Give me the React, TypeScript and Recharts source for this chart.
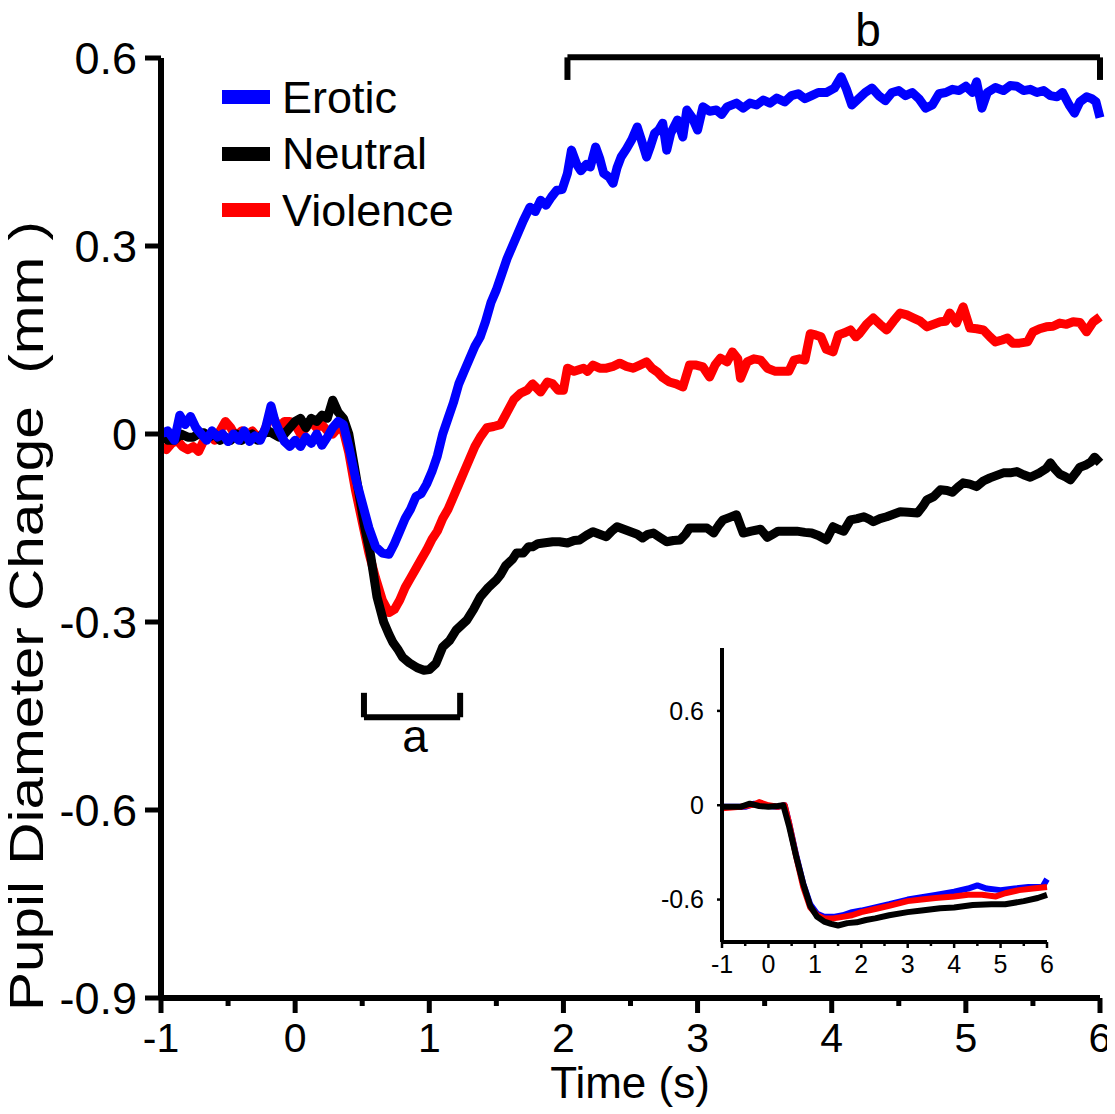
import React from 'react';
import { LineChart, Line, XAxis, YAxis, Legend, ReferenceLine, ReferenceDot } from 'recharts';

const FONT = '"Liberation Sans", Arial, Helvetica, sans-serif';

// ---------- main chart data: [time (s), pupil change (mm)] ----------
const eroticTrace: [number, number][] = [
  [-1.0, 0.0], [-0.95, 0.005], [-0.9, -0.01], [-0.86, 0.03], [-0.82, 0.015], [-0.78, 0.028], [-0.74, 0.01],
  [-0.7, 0.0], [-0.66, -0.01], [-0.62, 0.005], [-0.58, -0.005], [-0.54, 0.0], [-0.5, -0.012], [-0.46, 0.0],
  [-0.42, -0.01], [-0.38, 0.005], [-0.34, -0.012], [-0.3, -0.003], [-0.26, -0.01], [-0.22, 0.01], [-0.18, 0.045],
  [-0.15, 0.02], [-0.12, 0.005], [-0.08, -0.012], [-0.04, -0.02], [0.0, -0.01], [0.04, -0.02], [0.08, -0.005],
  [0.12, -0.015], [0.16, 0.0], [0.2, -0.018], [0.24, -0.005], [0.28, 0.01], [0.32, 0.02], [0.36, 0.015],
  [0.4, -0.02], [0.45, -0.07], [0.5, -0.11], [0.55, -0.15], [0.6, -0.18], [0.65, -0.19], [0.7, -0.192],
  [0.74, -0.175], [0.78, -0.155], [0.82, -0.135], [0.86, -0.12], [0.9, -0.1], [0.94, -0.095], [0.98, -0.08],
  [1.02, -0.06], [1.06, -0.035], [1.1, 0.0], [1.14, 0.025], [1.18, 0.05], [1.22, 0.08], [1.26, 0.1],
  [1.3, 0.12], [1.34, 0.14], [1.38, 0.155], [1.42, 0.18], [1.46, 0.21], [1.5, 0.23], [1.54, 0.255],
  [1.58, 0.28], [1.62, 0.3], [1.66, 0.32], [1.7, 0.34], [1.75, 0.362], [1.79, 0.355], [1.83, 0.373],
  [1.87, 0.365], [1.91, 0.378], [1.95, 0.389], [1.99, 0.39], [2.03, 0.416], [2.06, 0.453], [2.1, 0.43],
  [2.13, 0.42], [2.17, 0.43], [2.2, 0.426], [2.24, 0.458], [2.27, 0.44], [2.3, 0.416], [2.34, 0.41],
  [2.37, 0.4], [2.4, 0.425], [2.43, 0.442], [2.47, 0.455], [2.51, 0.47], [2.55, 0.49], [2.58, 0.47],
  [2.62, 0.442], [2.65, 0.46], [2.68, 0.48], [2.71, 0.485], [2.74, 0.496], [2.77, 0.453], [2.8, 0.48],
  [2.85, 0.501], [2.89, 0.474], [2.92, 0.517], [2.96, 0.505], [3.0, 0.485], [3.04, 0.522], [3.09, 0.515],
  [3.14, 0.517], [3.18, 0.51], [3.22, 0.522], [3.29, 0.528], [3.34, 0.52], [3.39, 0.528], [3.44, 0.525],
  [3.49, 0.533], [3.54, 0.528], [3.59, 0.536], [3.65, 0.53], [3.7, 0.54], [3.75, 0.543], [3.8, 0.535],
  [3.85, 0.54], [3.9, 0.545], [3.96, 0.545], [4.02, 0.552], [4.07, 0.57], [4.11, 0.55], [4.15, 0.525],
  [4.2, 0.535], [4.25, 0.545], [4.3, 0.552], [4.35, 0.54], [4.4, 0.532], [4.45, 0.545], [4.5, 0.548],
  [4.55, 0.54], [4.6, 0.545], [4.65, 0.535], [4.7, 0.52], [4.75, 0.525], [4.8, 0.543], [4.85, 0.545],
  [4.9, 0.55], [4.95, 0.548], [5.0, 0.555], [5.05, 0.545], [5.08, 0.562], [5.12, 0.52], [5.16, 0.545],
  [5.22, 0.553], [5.28, 0.548], [5.33, 0.556], [5.38, 0.555], [5.43, 0.548], [5.48, 0.55], [5.53, 0.545],
  [5.58, 0.548], [5.63, 0.54], [5.68, 0.538], [5.72, 0.545], [5.77, 0.525], [5.81, 0.512], [5.85, 0.53],
  [5.9, 0.538], [5.94, 0.535], [5.97, 0.53], [6.0, 0.505],
];

const neutralTrace: [number, number][] = [
  [-1.0, 0.0], [-0.95, -0.01], [-0.9, -0.01], [-0.85, 0.0], [-0.8, -0.005], [-0.76, -0.005], [-0.72, 0.0],
  [-0.68, 0.002], [-0.64, -0.005], [-0.6, 0.0], [-0.56, -0.01], [-0.52, -0.005], [-0.48, -0.01], [-0.44, 0.0],
  [-0.4, -0.01], [-0.36, -0.005], [-0.32, 0.0], [-0.28, -0.01], [-0.24, 0.0], [-0.2, 0.005], [-0.16, 0.0],
  [-0.12, -0.005], [-0.08, 0.0], [-0.04, 0.01], [0.0, 0.02], [0.04, 0.025], [0.08, 0.01], [0.12, 0.025],
  [0.16, 0.02], [0.2, 0.03], [0.24, 0.025], [0.28, 0.054], [0.32, 0.035], [0.36, 0.025], [0.4, 0.0],
  [0.44, -0.05], [0.48, -0.1], [0.52, -0.15], [0.56, -0.19], [0.61, -0.26], [0.66, -0.3], [0.7, -0.32],
  [0.73, -0.333], [0.77, -0.345], [0.8, -0.356], [0.85, -0.365], [0.91, -0.373], [0.96, -0.377], [1.0, -0.376],
  [1.05, -0.366], [1.1, -0.34], [1.15, -0.33], [1.2, -0.313], [1.24, -0.305], [1.28, -0.297], [1.33, -0.28],
  [1.38, -0.26], [1.44, -0.245], [1.5, -0.233], [1.53, -0.225], [1.57, -0.21], [1.62, -0.2], [1.65, -0.19],
  [1.7, -0.19], [1.74, -0.18], [1.77, -0.18], [1.81, -0.175], [1.85, -0.174], [1.92, -0.172], [1.97, -0.172],
  [2.03, -0.174], [2.08, -0.17], [2.12, -0.169], [2.17, -0.162], [2.22, -0.156], [2.27, -0.16], [2.32, -0.164],
  [2.36, -0.155], [2.4, -0.148], [2.45, -0.152], [2.5, -0.156], [2.55, -0.16], [2.59, -0.166], [2.63, -0.16],
  [2.67, -0.158], [2.72, -0.165], [2.77, -0.172], [2.82, -0.17], [2.87, -0.169], [2.91, -0.16], [2.94, -0.15],
  [3.0, -0.15], [3.07, -0.15], [3.12, -0.158], [3.16, -0.145], [3.19, -0.137], [3.24, -0.133], [3.29, -0.129],
  [3.34, -0.158], [3.4, -0.155], [3.47, -0.152], [3.52, -0.165], [3.56, -0.16], [3.6, -0.155], [3.67, -0.155],
  [3.74, -0.155], [3.8, -0.157], [3.85, -0.158], [3.9, -0.162], [3.96, -0.169], [4.01, -0.148], [4.05, -0.152],
  [4.09, -0.155], [4.14, -0.137], [4.19, -0.135], [4.24, -0.132], [4.28, -0.136], [4.31, -0.14], [4.36, -0.135],
  [4.41, -0.132], [4.46, -0.128], [4.51, -0.124], [4.57, -0.125], [4.64, -0.126], [4.68, -0.115], [4.71, -0.105],
  [4.76, -0.1], [4.81, -0.089], [4.86, -0.09], [4.9, -0.093], [4.94, -0.085], [4.98, -0.078], [5.03, -0.08],
  [5.08, -0.084], [5.13, -0.075], [5.18, -0.07], [5.23, -0.066], [5.28, -0.062], [5.33, -0.062], [5.38, -0.06],
  [5.43, -0.065], [5.48, -0.069], [5.52, -0.065], [5.55, -0.062], [5.6, -0.055], [5.63, -0.046], [5.66, -0.055],
  [5.7, -0.064], [5.74, -0.068], [5.78, -0.073], [5.82, -0.062], [5.85, -0.053], [5.89, -0.05], [5.93, -0.045],
  [5.96, -0.037], [6.0, -0.046],
];

const violenceTrace: [number, number][] = [
  [-1.0, -0.02], [-0.96, -0.025], [-0.92, -0.015], [-0.88, -0.01], [-0.84, -0.02], [-0.8, -0.025], [-0.76, -0.02],
  [-0.72, -0.028], [-0.68, -0.01], [-0.64, 0.0], [-0.6, -0.01], [-0.56, 0.005], [-0.52, 0.02], [-0.48, 0.01],
  [-0.44, -0.005], [-0.4, 0.005], [-0.36, -0.005], [-0.32, 0.005], [-0.28, -0.005], [-0.24, 0.0], [-0.2, 0.02],
  [-0.16, 0.025], [-0.12, 0.01], [-0.08, 0.02], [-0.04, 0.02], [0.0, 0.015], [0.04, 0.0], [0.08, 0.01],
  [0.12, 0.02], [0.16, 0.01], [0.2, 0.015], [0.24, 0.005], [0.28, 0.0], [0.32, 0.01], [0.36, 0.005],
  [0.4, -0.03], [0.45, -0.09], [0.5, -0.14], [0.55, -0.19], [0.6, -0.23], [0.65, -0.265], [0.7, -0.285],
  [0.74, -0.28], [0.78, -0.265], [0.82, -0.245], [0.86, -0.23], [0.9, -0.215], [0.94, -0.2], [0.98, -0.185],
  [1.02, -0.168], [1.06, -0.155], [1.1, -0.135], [1.14, -0.12], [1.18, -0.1], [1.22, -0.08], [1.26, -0.06],
  [1.3, -0.04], [1.34, -0.02], [1.38, -0.005], [1.43, 0.01], [1.48, 0.012], [1.53, 0.015], [1.58, 0.035],
  [1.63, 0.055], [1.68, 0.065], [1.73, 0.07], [1.77, 0.08], [1.83, 0.067], [1.88, 0.083], [1.92, 0.08],
  [1.96, 0.07], [2.0, 0.07], [2.03, 0.105], [2.08, 0.1], [2.15, 0.105], [2.18, 0.1], [2.22, 0.11],
  [2.27, 0.105], [2.32, 0.105], [2.37, 0.108], [2.42, 0.113], [2.47, 0.108], [2.52, 0.105], [2.57, 0.11],
  [2.62, 0.115], [2.66, 0.105], [2.7, 0.099], [2.74, 0.09], [2.79, 0.083], [2.84, 0.08], [2.89, 0.075],
  [2.94, 0.11], [2.99, 0.11], [3.04, 0.107], [3.09, 0.091], [3.13, 0.11], [3.17, 0.121], [3.22, 0.115],
  [3.26, 0.131], [3.3, 0.12], [3.32, 0.089], [3.37, 0.115], [3.42, 0.12], [3.47, 0.118], [3.52, 0.105],
  [3.58, 0.1], [3.63, 0.1], [3.68, 0.1], [3.72, 0.118], [3.76, 0.12], [3.8, 0.118], [3.84, 0.16],
  [3.88, 0.158], [3.92, 0.155], [3.96, 0.135], [4.01, 0.131], [4.05, 0.158], [4.09, 0.161], [4.14, 0.166],
  [4.18, 0.155], [4.21, 0.161], [4.26, 0.175], [4.31, 0.185], [4.36, 0.175], [4.41, 0.166], [4.46, 0.18],
  [4.51, 0.193], [4.56, 0.19], [4.61, 0.185], [4.66, 0.18], [4.71, 0.171], [4.76, 0.175], [4.81, 0.179],
  [4.85, 0.18], [4.88, 0.193], [4.93, 0.177], [4.98, 0.203], [5.03, 0.169], [5.08, 0.168], [5.13, 0.166],
  [5.18, 0.155], [5.22, 0.147], [5.27, 0.15], [5.31, 0.153], [5.35, 0.145], [5.4, 0.145], [5.46, 0.147],
  [5.5, 0.163], [5.55, 0.168], [5.6, 0.171], [5.65, 0.172], [5.7, 0.177], [5.75, 0.175], [5.8, 0.179],
  [5.85, 0.178], [5.9, 0.163], [5.95, 0.179], [6.0, 0.187],
];

// ---------- inset data ----------
const insetErotic: [number, number][] = [
  [-1, -0.01], [-0.5, -0.01], [-0.3, 0.01], [0, -0.005], [0.2, -0.01], [0.35, 0.0], [0.45, -0.12], [0.6, -0.32],
  [0.75, -0.5], [0.9, -0.63], [1.05, -0.69], [1.2, -0.71], [1.4, -0.71], [1.6, -0.7], [1.8, -0.68], [2.0, -0.67],
  [2.3, -0.65], [2.6, -0.63], [3.0, -0.6], [3.3, -0.585], [3.6, -0.57], [4.0, -0.55], [4.3, -0.53], [4.5, -0.51],
  [4.7, -0.53], [5.0, -0.54], [5.3, -0.53], [5.6, -0.52], [5.9, -0.52], [6.0, -0.47],
];
const insetViolence: [number, number][] = [
  [-1, -0.02], [-0.6, -0.01], [-0.3, 0.005], [-0.2, 0.02], [0, 0.0], [0.2, -0.01], [0.35, 0.0], [0.45, -0.12],
  [0.6, -0.33], [0.75, -0.52], [0.9, -0.65], [1.05, -0.7], [1.2, -0.72], [1.4, -0.72], [1.6, -0.71], [1.8, -0.7],
  [2.0, -0.68], [2.3, -0.66], [2.6, -0.64], [3.0, -0.61], [3.3, -0.6], [3.6, -0.59], [4.0, -0.58], [4.3, -0.57],
  [4.6, -0.57], [4.9, -0.58], [5.1, -0.56], [5.4, -0.54], [5.7, -0.53], [6.0, -0.52],
];
const insetNeutral: [number, number][] = [
  [-1, -0.01], [-0.6, -0.01], [-0.4, 0.01], [-0.2, -0.005], [0, -0.01], [0.2, -0.005], [0.32, 0.0], [0.45, -0.14],
  [0.6, -0.33], [0.75, -0.5], [0.9, -0.64], [1.05, -0.71], [1.2, -0.74], [1.35, -0.755], [1.5, -0.765], [1.7, -0.75],
  [1.9, -0.745], [2.1, -0.73], [2.3, -0.72], [2.6, -0.7], [3.0, -0.68], [3.3, -0.67], [3.7, -0.655], [4.0, -0.65],
  [4.4, -0.635], [4.8, -0.63], [5.1, -0.63], [5.5, -0.61], [5.8, -0.59], [6.0, -0.57],
];

// ---------- axes / annotations ----------
const xTicks = [-1, -0.5, 0, 0.5, 1, 1.5, 2, 2.5, 3, 3.5, 4, 4.5, 5, 5.5, 6];
const yTicks = [-0.9, -0.6, -0.3, 0, 0.3, 0.6];
const insetYTicks = [-0.6, 0, 0.6];
const bracketA = { x1: 0.513, x2: 1.23, bar: -0.452, tip: -0.413, labelX: 0.894, labelY: -0.507, text: 'a' };
const bracketB = { x1: 2.03, x2: 6.0, bar: 0.601, tip: 0.565, labelX: 4.27, labelY: 0.619, text: 'b' };
const yAxisTitle = 'Pupil Diameter Change  (mm )';
const xAxisTitle = 'Time (s)';

const seriesInfo = [
  { key: 'Erotic', color: '#0000ff' },
  { key: 'Neutral', color: '#000000' },
  { key: 'Violence', color: '#ff0000' },
];

const toRows = (arr: [number, number][]) => arr.map(([t, v]) => ({ t, v }));

const MainXTick = (props: any) => {
  const { x, y, payload } = props;
  const v = payload.value;
  const major = Number.isInteger(v);
  return (
    <g>
      <line x1={x} x2={x} y1={y} y2={y + (major ? 15 : 8)} stroke="#000" strokeWidth={5} />
      {major && (
        <text x={x} y={y + 54} textAnchor="middle" fontSize={41} fontFamily={FONT} fill="#000">
          {String(v)}
        </text>
      )}
    </g>
  );
};

const InsetXTick = (props: any) => {
  const { x, y, payload } = props;
  const v = payload.value;
  const major = Number.isInteger(v);
  return (
    <g>
      <line x1={x} x2={x} y1={y} y2={y + (major ? 6 : 4)} stroke="#000" strokeWidth={2.5} />
      {major && (
        <text x={x} y={y + 31} textAnchor="middle" fontSize={25} fontFamily={FONT} fill="#000">
          {String(v)}
        </text>
      )}
    </g>
  );
};

const LegendContent = () => (
  <div style={{ fontFamily: FONT }}>
    {seriesInfo.map((s) => (
      <div key={s.key} style={{ display: 'flex', alignItems: 'center', height: 56.5 }}>
        <div style={{ width: 48, height: 14, background: s.color }} />
        <span style={{ fontSize: 45, lineHeight: 1, marginLeft: 12, color: '#000' }}>{s.key}</span>
      </div>
    ))}
  </div>
);

const annotationText = (text: string) => (p: any) => (
  <text x={p.cx} y={p.cy} textAnchor="middle" fontSize={46} fontFamily={FONT} fill="#000">
    {text}
  </text>
);

const Bracket = (b: typeof bracketA) => [
  <ReferenceLine key={b.text + 'h'} segment={[{ x: b.x1, y: b.bar }, { x: b.x2, y: b.bar }]} stroke="#000" strokeWidth={6} ifOverflow="visible" />,
  <ReferenceLine key={b.text + 'l'} segment={[{ x: b.x1, y: b.bar }, { x: b.x1, y: b.tip }]} stroke="#000" strokeWidth={6} ifOverflow="visible" />,
  <ReferenceLine key={b.text + 'r'} segment={[{ x: b.x2, y: b.bar }, { x: b.x2, y: b.tip }]} stroke="#000" strokeWidth={6} ifOverflow="visible" />,
  <ReferenceDot key={b.text + 't'} x={b.labelX} y={b.labelY} r={0} ifOverflow="visible" shape={annotationText(b.text)} />,
];

export default function App() {
  const erotic = toRows(eroticTrace);
  const neutral = toRows(neutralTrace);
  const violence = toRows(violenceTrace);
  const lineProps = { dot: false, activeDot: false, isAnimationActive: false, strokeLinejoin: 'round' as const };
  return (
    <div style={{ position: 'relative', width: 1107, height: 1106, background: '#fff' }}>
      <style>{'svg.recharts-surface { overflow: visible; }'}</style>
      <LineChart width={1107} height={1106} margin={{ top: 50, right: 15, bottom: 0, left: 0 }}>
        <XAxis
          dataKey="t"
          type="number"
          domain={[-1, 6]}
          ticks={xTicks}
          interval={0}
          allowDuplicatedCategory={false}
          tickSize={0}
          tickMargin={0}
          tickLine={false}
          axisLine={{ stroke: '#000', strokeWidth: 6 }}
          tick={<MainXTick />}
          height={116}
          label={{
            content: () => (
              <text x={622} y={1090} textAnchor="middle" fontSize={44} fontFamily={FONT} fill="#000">
                {xAxisTitle}
              </text>
            ),
          }}
        />
        <YAxis
          dataKey="v"
          type="number"
          domain={[-0.9, 0.6]}
          ticks={yTicks}
          interval={0}
          width={153}
          tickSize={16}
          tickMargin={8}
          tickLine={{ stroke: '#000', strokeWidth: 5 }}
          axisLine={{ stroke: '#000', strokeWidth: 6 }}
          tick={{ fontSize: 45, fontFamily: FONT, fill: '#000' }}
          label={{
            content: () => (
              <text
                x={35}
                y={608}
                transform="rotate(-90, 35, 608)"
                textAnchor="middle"
                fontSize={48}
                fontFamily={FONT}
                fill="#000"
                textLength={790}
                lengthAdjust="spacingAndGlyphs"
                style={{ whiteSpace: 'pre' }}
              >
                {yAxisTitle}
              </text>
            ),
          }}
        />
        <Legend
          layout="horizontal"
          verticalAlign="middle"
          align="center"
          wrapperStyle={{ left: 214, top: 61, width: 320, height: 170 }}
          content={<LegendContent />}
        />
        <Line data={violence} dataKey="v" name="Violence" stroke="#ff0000" strokeWidth={9} {...lineProps} />
        <Line data={neutral} dataKey="v" name="Neutral" stroke="#000000" strokeWidth={9} {...lineProps} />
        <Line data={erotic} dataKey="v" name="Erotic" stroke="#0000ff" strokeWidth={9} {...lineProps} />
        {Bracket(bracketA)}
        {Bracket(bracketB)}
      </LineChart>

      <div style={{ position: 'absolute', left: 640, top: 620 }}>
        <LineChart width={440} height={360} margin={{ top: 20, right: 41, bottom: 0, left: 0 }}>
          <XAxis
            dataKey="t"
            type="number"
            domain={[-1, 6]}
            ticks={xTicks}
            interval={0}
            allowDuplicatedCategory={false}
            tickSize={0}
            tickMargin={0}
            tickLine={false}
            axisLine={{ stroke: '#000', strokeWidth: 4 }}
            tick={<InsetXTick />}
            height={46}
          />
          <YAxis
            dataKey="v"
            type="number"
            domain={[-0.87, 1.0]}
            ticks={insetYTicks}
            interval={0}
            width={74}
            tickSize={5}
            tickMargin={13}
            tickLine={{ stroke: '#000', strokeWidth: 2.5 }}
            axisLine={{ stroke: '#000', strokeWidth: 4 }}
            tick={{ fontSize: 25, fontFamily: FONT, fill: '#000' }}
          />
          <Line data={toRows(insetErotic)} dataKey="v" stroke="#0000ff" strokeWidth={6} {...lineProps} />
          <Line data={toRows(insetViolence)} dataKey="v" stroke="#ff0000" strokeWidth={6} {...lineProps} />
          <Line data={toRows(insetNeutral)} dataKey="v" stroke="#000000" strokeWidth={6} {...lineProps} />
        </LineChart>
      </div>
    </div>
  );
}
